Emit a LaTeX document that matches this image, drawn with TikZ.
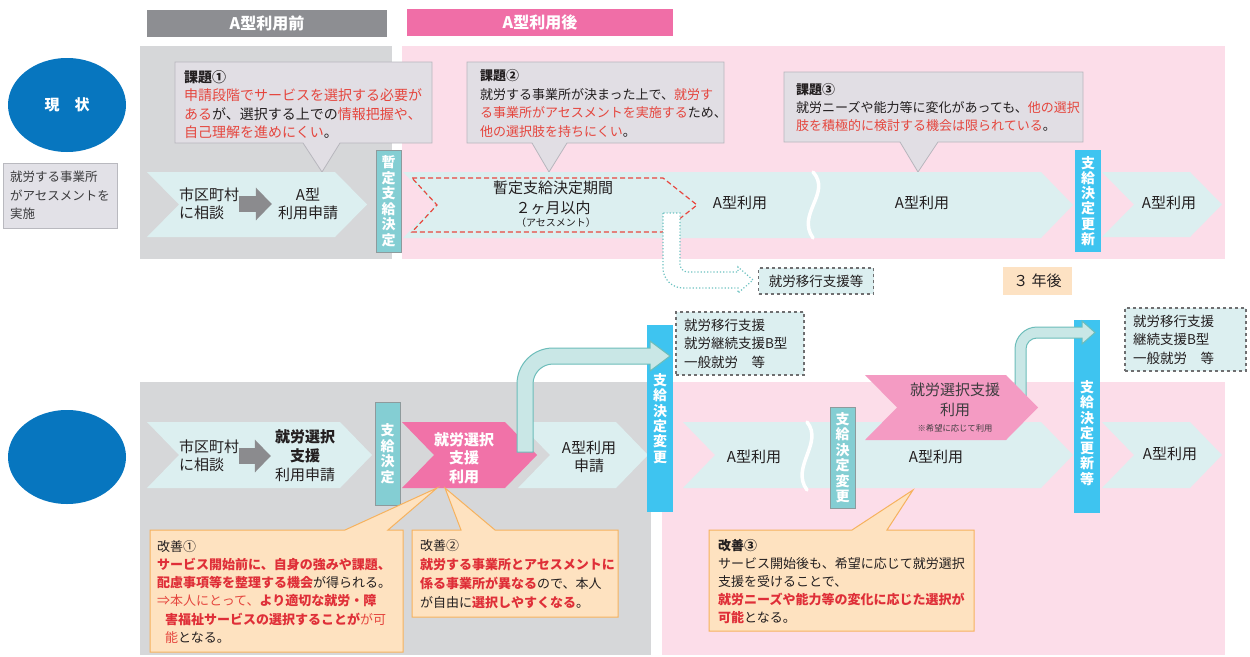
\documentclass[tikz,border=0pt]{standalone}
\usepackage{fontspec}
\setmainfont{Noto Sans CJK JP}
\usetikzlibrary{shapes.geometric,arrows.meta}

\definecolor{ink}{HTML}{231F20}
\definecolor{hdgray}{HTML}{8D8E92}
\definecolor{hdpink}{HTML}{F06EA7}
\definecolor{bggray}{HTML}{D6D7D9}
\definecolor{bgpink}{HTML}{FCDDE9}
\definecolor{ellblue}{HTML}{0776BF}
\definecolor{memofill}{HTML}{E2E1E7}
\definecolor{memoline}{HTML}{B9B9BF}
\definecolor{callfill}{HTML}{E1DEE4}
\definecolor{callline}{HTML}{B7B6BD}
\definecolor{kred}{HTML}{E5463E}
\definecolor{kbred}{HTML}{DF2F38}
\definecolor{chevcyan}{HTML}{DCEFF0}
\definecolor{barteal}{HTML}{84CED3}
\definecolor{bargray}{HTML}{8E9A9C}
\definecolor{barsky}{HTML}{3EC4F0}
\definecolor{arrowgray}{HTML}{8B8B8E}
\definecolor{dashred}{HTML}{E8473F}
\definecolor{dotteal}{HTML}{6DC2C1}
\definecolor{dashgray}{HTML}{6E6E70}
\definecolor{yearfill}{HTML}{FDE2C3}
\definecolor{chevpink}{HTML}{F172A8}
\definecolor{chevlpink}{HTML}{F49BC3}
\definecolor{arrowfill}{HTML}{C9E7E6}
\definecolor{arrowline}{HTML}{6CBDBA}
\definecolor{peachfill}{HTML}{FEE2C0}
\definecolor{peachline}{HTML}{F6B25E}
\definecolor{dgray}{HTML}{3C3C3E}

\newcommand{\fsz}[2]{\fontsize{#1}{#2}\selectfont}
\newcommand{\rtx}[1]{\textcolor{kred}{#1}}
\newcommand{\rbx}[1]{\textcolor{kbred}{\bfseries #1}}
\newcommand{\chev}[5]{\fill[#1] (#2,#4) -- ({#3-32},#4) -- (#3,{(#4+#5)/2}) -- ({#3-32},#5) -- (#2,#5) -- ({#2+32},{(#4+#5)/2}) -- cycle;}

\tikzset{
  txt/.style={inner sep=0pt, text=ink, font=\fsz{15}{18}, align=center},
  hdbox/.style={inner sep=0pt, text=white, font=\bfseries\fsz{16}{18}, minimum height=27pt},
  memobox/.style={draw=memoline, fill=memofill, minimum width=114pt, minimum height=65pt, inner sep=0pt, align=left, text=dgray, font=\fsz{12.5}{18.5}},
  tealbar/.style={draw=bargray, fill=barteal, minimum width=25pt, inner sep=0pt, text=white, font=\bfseries\fsz{14}{15.5}, align=center},
  skybar/.style={fill=barsky, minimum width=26pt, inner sep=0pt, text=white, font=\bfseries\fsz{14}{15.3}, align=center},
  dashbox/.style={draw=dashgray, dashed, line width=1.2pt, fill=chevcyan, inner sep=0pt, text=ink, font=\fsz{13.5}{18.5}, align=left},
  graycall/.style={draw=callline, fill=callfill, line width=0.8pt},
  peachcall/.style={draw=peachline, fill=peachfill, line width=1pt},
  calltxt/.style={anchor=north west, inner sep=0pt, align=left, text=ink},
  wave/.style={white, line width=3.5pt, line cap=round},
  tealarrow/.style={draw=arrowline, fill=arrowfill, line width=1pt},
  dotarrow/.style={draw=dotteal, fill=white, line width=1.2pt, dotted},
  reddash/.style={draw=dashred, line width=1.2pt, dash pattern=on 5pt off 3pt},
  grayarrow/.style={draw=arrowgray, line width=16pt, -{Triangle[length=16pt,width=32pt]}},
}

\begin{document}
\begin{tikzpicture}[x=1pt,y=-1pt]
\useasboundingbox (0,0) rectangle (1250,656);
\fill[white] (0,0) rectangle (1250,656);
\fill[bggray] (140,46) rectangle (392,259);
\fill[bgpink] (402,46) rectangle (1225,259);
\fill[bggray] (140,382) rectangle (651,655);
\fill[bgpink] (662,382) rectangle (1225,655);

\node[hdbox, fill=hdgray, minimum width=240pt] (before) at (267,23.5) {A型利用前};
\node[hdbox, fill=hdpink, minimum width=266pt] (after) at (540,22) {A型利用後};

\node[ellipse, fill=ellblue, minimum width=118pt, minimum height=94pt, inner sep=0pt, text=white, font=\bfseries\fsz{15}{18}] (now) at (67,105) {現　状};
\node[ellipse, fill=ellblue, minimum width=118pt, minimum height=94pt, inner sep=0pt] (plan) at (67,457) {};
\node[memobox] (memo) at (60,195.5) {就労する事業所\\がアセスメントを\\実施};

\draw[graycall] (175,62) -- (432,62) -- (432,143) -- (340,143) -- (322,172) -- (303,143) -- (175,143) -- cycle;
\draw[graycall] (467,62) -- (724,62) -- (724,143) -- (567,143) -- (549,172) -- (532,143) -- (467,143) -- cycle;
\draw[graycall] (784,72) -- (1083,72) -- (1083,142) -- (938,142) -- (918,172) -- (900,142) -- (784,142) -- cycle;
\node[calltxt, font=\fsz{14}{18.5}] (issue1) at (184,70) {\textbf{課題①}\\\rtx{申請段階でサービスを選択する必要が}\\\rtx{ある}が、選択する上での\rtx{情報把握や、}\\\rtx{自己理解を進めにくい}。};
\node[calltxt, font=\fsz{13}{18.7}] (issue2) at (480,69) {\textbf{課題②}\\就労する事業所が決まった上で、\rtx{就労す}\\\rtx{る事業所がアセスメントを実施する}ため、\\\rtx{他の選択肢を持ちにくい}。};
\node[calltxt, font=\fsz{13}{18}] (issue3) at (796,83) {\textbf{課題③}\\就労ニーズや能力等に変化があっても、\rtx{他の選択}\\\rtx{肢を積極的に検討する機会は限られている}。};

\chev{chevcyan}{147}{367}{172}{237}
\chev{chevcyan}{403}{1073}{172}{238}
\chev{chevcyan}{1102}{1222}{172}{237}
\node[txt, anchor=west, align=left] (consult1) at (179,204) {市区町村\\に相談};
\node[txt] (apply1) at (308,204) {A型\\利用申請};
\draw[grayarrow] (consult1.east) -- ([xshift=-6pt]apply1.west);
\node[tealbar, minimum height=102pt] (temp) at (388.5,201) {暫\\定\\支\\給\\決\\定};
\node[skybar, minimum height=102pt] (renew1) at (1088,201) {支\\給\\決\\定\\更\\新};
\draw[reddash] (412,178) -- (663,178) -- (697,205) -- (663,232) -- (412,232) -- (437,205) -- cycle;
\node[txt] (period) at (553,188) {暫定支給決定期間};
\node[txt] (months) at (553,208) {２ヶ月以内};
\node[txt, font=\fsz{10}{12}] (assess) at (556,223) {（アセスメント）};
\draw[dotarrow] (663,213) -- (663,268) .. controls (663,279) and (672,288) .. (683,288) -- (738,288) -- (738,293) -- (753,280) -- (738,267) -- (738,272) -- (688,272) .. controls (683.6,272) and (680,268.4) .. (680,264) -- (680,213) -- cycle;
\node[txt] (use1) at (740,203) {A型利用};
\draw[wave] (813,172) .. controls (832,193) and (796,214) .. (813,238);
\node[txt] (use2) at (922,203) {A型利用};
\node[txt] (use3) at (1169,203) {A型利用};
\node[dashbox, minimum width=115pt, minimum height=26pt] (trans) at (816,281) {就労移行支援等};
\node[fill=yearfill, minimum width=69pt, minimum height=28pt, inner sep=0pt, text=ink, font=\fsz{15}{18}] (year) at (1037.5,281) {３ 年後};

\chev{chevcyan}{147}{372}{422}{488}
\node[txt, anchor=west, align=left] (consult2) at (179,456) {市区町村\\に相談};
\node[txt, font=\fsz{15}{19}] (apply2) at (305,456) {\textbf{就労選択}\\\textbf{支援}\\利用申請};
\draw[grayarrow] (consult2.east) -- ([xshift=-4pt]apply2.west);
\node[tealbar, minimum height=103pt] (grant) at (387.5,453.5) {支\\給\\決\\定};
\chev{chevpink}{402}{537}{422}{488}
\node[txt, text=white, font=\bfseries\fsz{15}{18.5}] (select1) at (464,458) {就労選択\\支援\\利用};
\chev{chevcyan}{518}{648}{422}{488}
\node[txt] (apply3) at (589,457) {A型利用\\申請};
\node[skybar, minimum height=187pt] (change1) at (660,418.5) {支\\給\\決\\定\\変\\更};
\draw[tealarrow] (517,452) -- (517,384) .. controls (517,364.1) and (533.1,348) .. (553,348) -- (650,348) -- (650,341) -- (670,356) -- (650,371) -- (650,364) -- (553,364) .. controls (542,364) and (533,373) .. (533,384) -- (533,452) -- cycle;
\node[dashbox, minimum width=128pt, minimum height=63pt, text width=112pt] (alt1) at (740,343.5) {就労移行支援\\就労継続支援B型\\一般就労　等};

\chev{chevcyan}{683}{1073}{422}{488}
\node[txt] (use4) at (754,457) {A型利用};
\draw[wave] (807,422) .. controls (824,443) and (790,467) .. (807,490);
\node[tealbar, minimum height=101pt] (change2) at (842.5,457.5) {支\\給\\決\\定\\変\\更};
\node[txt] (use5) at (936,457) {A型利用};
\node[skybar, minimum height=193pt] (renew2) at (1087,416.5) {};
\node[skybar, fill=none] (renew2t) at (1087,433) {支\\給\\決\\定\\更\\新\\等};
\draw[tealarrow] (1015,400) -- (1015,349) .. controls (1015,336.9) and (1024.9,327) .. (1037,327) -- (1082,327) -- (1082,321) -- (1095,332.5) -- (1082,344) -- (1082,338) -- (1037,338) .. controls (1030.9,338) and (1026,342.9) .. (1026,349) -- (1026,400) -- cycle;
\chev{chevlpink}{865}{1038}{375}{440}
\node[txt, text=dgray] (select2) at (955,390) {就労選択支援};
\node[txt, text=dgray] (select3) at (955,410) {利用};
\node[txt, text=dgray, font=\fsz{8.3}{10}] (wish) at (955,428) {※希望に応じて利用};
\node[dashbox, minimum width=121pt, minimum height=63pt, text width=105pt] (alt2) at (1185.5,339.5) {就労移行支援\\継続支援B型\\一般就労　等};
\chev{chevcyan}{1102}{1222}{422}{488}
\node[txt] (use6) at (1170,454) {A型利用};

\draw[peachcall] (150,530) -- (345,530) -- (437,488) -- (388,530) -- (403,530) -- (403,652) -- (150,652) -- cycle;
\draw[peachcall] (412,530) -- (461,530) -- (445,488) -- (495,530) -- (618,530) -- (618,617) -- (412,617) -- cycle;
\draw[peachcall] (709,530) -- (852,530) -- (913,490) -- (887,530) -- (974,530) -- (974,631) -- (709,631) -- cycle;
\node[calltxt, font=\fsz{13}{18.2}] (gain1) at (157,540) {改善①\\\rbx{サービス開始前に、自身の強みや課題、}\\\rbx{配慮事項等を整理する機会}が得られる。\\\rtx{⇒本人にとって、}\rbx{より適切な就労・障}\\\hspace*{8pt}\rbx{害福祉サービスの選択することが}\rtx{が可}\\\hspace*{8pt}\rtx{能}となる。};
\node[calltxt, font=\fsz{13}{19}] (gain2) at (420,539) {改善②\\\rbx{就労する事業所とアセスメントに}\\\rbx{係る事業所が異なる}ので、本人\\が自由に\rbx{選択しやすくなる}。};
\node[calltxt, font=\fsz{13}{18}] (gain3) at (718,539) {\textbf{改善③}\\サービス開始後も、希望に応じて就労選択\\支援を受けることで、\\\rbx{就労ニーズや能力等の変化に応じた選択が}\\\rbx{可能}となる。};
\end{tikzpicture}
\end{document}
